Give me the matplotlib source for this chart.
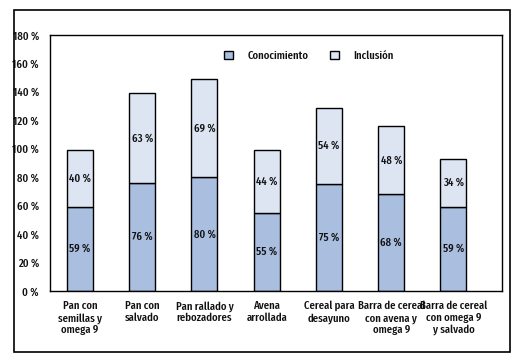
import matplotlib
matplotlib.use("Agg")
import matplotlib.pyplot as plt
from matplotlib.patches import Rectangle
import numpy as np

categories = ["Pan con\nsemillas y\nomega 9", "Pan con\nsalvado", "Pan rallado y\nrebozadores",
              "Avena\narrollada", "Cereal para\ndesayuno", "Barra de cereal\ncon avena y\nomega 9",
              "Barra de cereal\ncon omega 9\ny salvado"]
conocimiento = [59, 76, 80, 55, 75, 68, 59]
inclusion = [40, 63, 69, 44, 54, 48, 34]
yticks = [0, 20, 40, 60, 80, 100, 120, 140, 160, 180]
series_names = ["Conocimiento", "Inclusión"]

plt.rcParams['font.family'] = ['Fira Sans Extra Condensed', 'Fira Sans Condensed', 'DejaVu Sans']
FW = 'medium'
FS = 8.4
SP = '\u2009'
txt = '#111111'
c1 = '#aabfe0'
c2 = '#dde4f2'

fig = plt.figure(figsize=(5.16, 3.55), dpi=100)
fig.patches.append(Rectangle((0.0271, 0.0085), 0.961, 0.9635, transform=fig.transFigure,
                             fill=False, edgecolor='black', linewidth=1.2))
ax = fig.add_axes([0.0969, 0.180, 0.876, 0.721])

x = np.arange(len(categories))
w = 0.418
ax.bar(x, conocimiento, w, color=c1, edgecolor='black', linewidth=1.0, label=series_names[0])
ax.bar(x, inclusion, w, bottom=conocimiento, color=c2, edgecolor='black', linewidth=1.0,
       label=series_names[1])

for i in range(len(x)):
    ax.text(x[i], conocimiento[i] / 2, f"{conocimiento[i]}{SP}%", ha='center', va='center',
            fontsize=FS, fontweight=FW, color=txt)
    ax.text(x[i], conocimiento[i] + inclusion[i] / 2, f"{inclusion[i]}{SP}%", ha='center', va='center',
            fontsize=FS, fontweight=FW, color=txt)

ax.set_ylim(0, 180)
ax.set_xlim(-0.482, 6.78)
ax.set_yticks(yticks)
ax.set_yticklabels([f"{v}{SP}%" for v in yticks], fontsize=FS, fontweight=FW, color=txt)
ax.set_xticks(x)
ax.set_xticklabels(categories, fontsize=FS, fontweight=FW, color=txt, linespacing=1.15)
ax.tick_params(axis='both', length=0)
ax.tick_params(axis='y', pad=8)
ax.tick_params(axis='x', pad=7)
for s in ax.spines.values():
    s.set_linewidth(1.0)
    s.set_color('black')

leg = ax.legend(loc='center', bbox_to_anchor=(0.573, 0.918), ncol=2, frameon=False,
                prop={'size': FS, 'weight': FW}, handlelength=0.75, handleheight=0.75,
                handletextpad=1.2, columnspacing=1.9)
for t in leg.get_texts():
    t.set_color(txt)

fig.savefig("out.png", dpi=100)
